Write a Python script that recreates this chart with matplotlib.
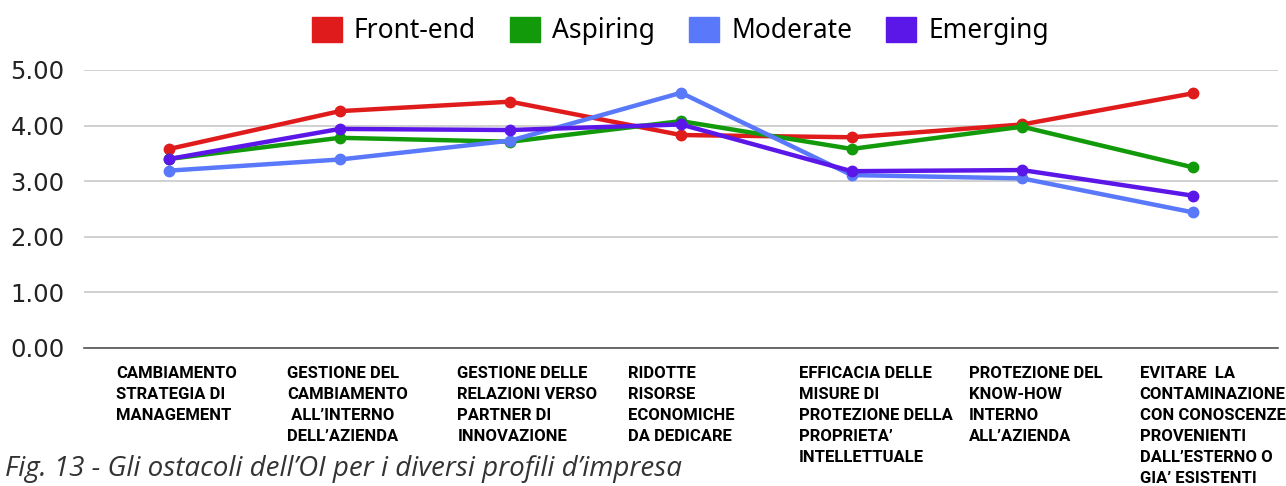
import matplotlib.pyplot as plt
from matplotlib.patches import Patch
from matplotlib.transforms import ScaledTranslation

# categorie (asse x)
categorie = [
    "CAMBIAMENTO\nSTRATEGIA DI\nMANAGEMENT",
    "GESTIONE DEL\nCAMBIAMENTO\n ALL\u2019INTERNO\nDELL\u2019AZIENDA",
    "GESTIONE DELLE\nRELAZIONI VERSO\nPARTNER DI\nINNOVAZIONE",
    "RIDOTTE\nRISORSE\nECONOMICHE\nDA DEDICARE",
    "EFFICACIA DELLE\nMISURE DI\nPROTEZIONE DELLA\nPROPRIETA\u2019\nINTELLETTUALE",
    "PROTEZIONE DEL\nKNOW-HOW\nINTERNO\nALL\u2019AZIENDA",
    "EVITARE  LA\nCONTAMINAZIONE\nCON CONOSCENZE\nPROVENIENTI\nDALL\u2019ESTERNO O\nGIA\u2019 ESISTENTI",
]

front_end = [3.58, 4.26, 4.43, 3.83, 3.79, 4.02, 4.58]
aspiring = [3.40, 3.78, 3.71, 4.08, 3.58, 3.98, 3.25]
moderate = [3.19, 3.39, 3.73, 4.59, 3.11, 3.05, 2.44]
emerging = [3.40, 3.94, 3.92, 4.02, 3.18, 3.20, 2.74]

serie = [
    ("Front-end", front_end, "#e01b1b"),
    ("Aspiring", aspiring, "#129a0a"),
    ("Moderate", moderate, "#5a78fa"),
    ("Emerging", emerging, "#5b17e8"),
]

y_ticks = [0, 1, 2, 3, 4, 5]

fig = plt.figure(figsize=(12.86, 4.86), dpi=100)
ax = fig.add_axes([0.0653, 0.284, 0.9285, 0.572])

x = list(range(len(categorie)))
for nome, valori, colore in serie:
    ax.plot(x, valori, color=colore, lw=3.2, marker="o", ms=7.5, label=nome,
            solid_joinstyle="round", zorder=3)

ax.set_xlim(-0.5, len(categorie) - 0.5)
ax.set_ylim(0, 5)
ax.set_yticks(y_ticks)
ax.set_yticklabels([f"{v:.2f}" for v in y_ticks], fontsize=17.5, family="DejaVu Sans",
                   color="#222222")
ax.grid(axis="y", color="#c8c8c8", lw=1.2)
ax.tick_params(axis="y", length=0, pad=14)
ax.tick_params(axis="x", length=0, pad=13)
ax.set_xticks(x)
ax.set_xticklabels(categorie, fontsize=12, family="Roboto", fontweight="bold",
                   linespacing=1.5, ha="left", va="top")
# blocchi di testo allineati a sinistra, spostati un po' a sinistra del punto
offset = ScaledTranslation(-0.53, 0, fig.dpi_scale_trans)
for lab in ax.get_xticklabels():
    lab.set_transform(lab.get_transform() + offset)
for s in ("top", "right", "left"):
    ax.spines[s].set_visible(False)
ax.spines["bottom"].set_color("#555555")
ax.spines["bottom"].set_linewidth(1.2)

handles = [Patch(facecolor=c, edgecolor=c, label=n) for n, _, c in serie]
fig.legend(handles=handles, loc="center", bbox_to_anchor=(0.529, 0.936), ncol=4,
           frameon=False, prop={"family": "Noto Sans", "size": 19},
           handlelength=1.14, handleheight=1.1, handletextpad=0.45, columnspacing=1.3)

fig.text(0.004, 0.006, "Fig. 13 - Gli ostacoli dell\u2019OI per i diversi profili d\u2019impresa",
         fontsize=20, style="italic", family="Open Sans", color="#333333", va="bottom")

fig.savefig("out.png", dpi=100)
